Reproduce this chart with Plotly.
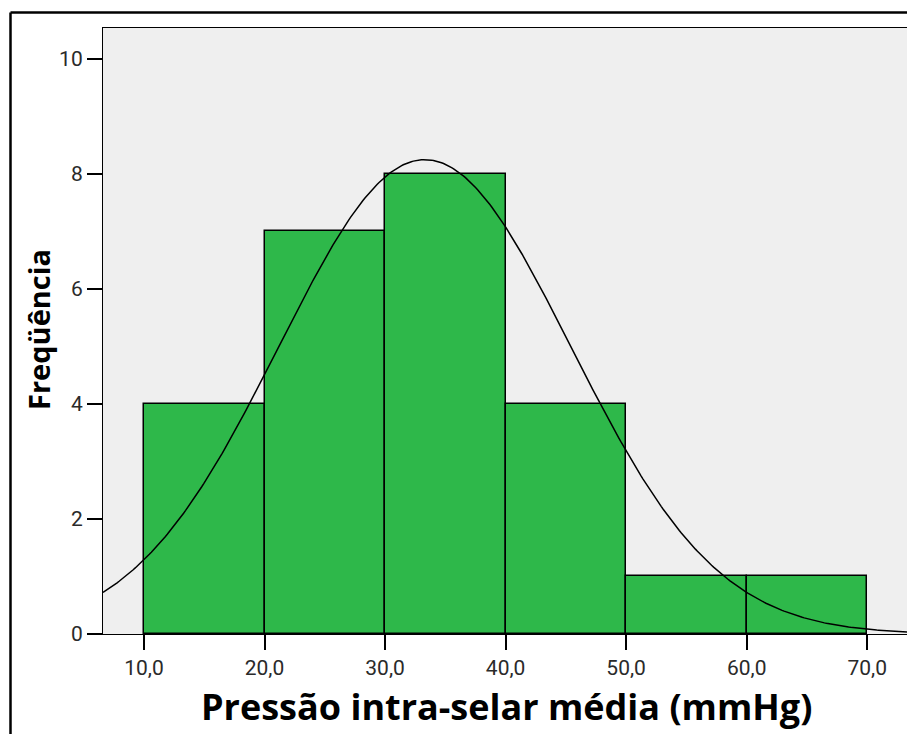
import numpy as np
import plotly.graph_objects as go

# Data
bin_starts = [10, 20, 30, 40, 50, 60]
bin_width = 10
counts = [4, 7, 8, 4, 1, 1]
x_tickvals = [10, 20, 30, 40, 50, 60, 70]
x_ticktext = ["10,0", "20,0", "30,0", "40,0", "50,0", "60,0", "70,0"]
y_tickvals = [0, 2, 4, 6, 8, 10]
# normal curve parameters (SPSS fitted normal)
curve_mean = 33.3
curve_sd = 12.1

x_range = [6.6, 73.3]
y_range = [0, 10.53]

n_total = sum(counts)
centers = [b + bin_width / 2 for b in bin_starts]

xs = np.linspace(x_range[0], x_range[1], 400)
ys = n_total * bin_width / (curve_sd * np.sqrt(2 * np.pi)) * np.exp(-0.5 * ((xs - curve_mean) / curve_sd) ** 2)

fig = go.Figure()
fig.add_trace(go.Bar(
    x=centers, y=counts, width=[bin_width] * len(counts),
    marker=dict(color="rgb(46,184,74)", line=dict(color="black", width=1.5)),
    showlegend=False, hoverinfo="skip",
))
fig.add_trace(go.Scatter(
    x=xs, y=ys, mode="lines", line=dict(color="black", width=1.5),
    showlegend=False, hoverinfo="skip",
))

W, H = 907, 734
L, R, T, B = 103, 0, 28, 100
pw, ph = W - L - R, H - T - B

def px(x):
    return (x - L) / pw

def py(y):
    return (H - B - y) / ph

tick_font = dict(family="Roboto", size=21, color="#2a2a2a")

fig.update_layout(
    width=W, height=H,
    margin=dict(l=L, r=R, t=T, b=B),
    paper_bgcolor="white",
    plot_bgcolor="rgb(239,239,239)",
    bargap=0,
    font=tick_font,
    xaxis=dict(
        range=x_range, tickvals=x_tickvals, ticktext=x_ticktext,
        showgrid=False, zeroline=False, showline=True, mirror=True,
        linecolor="black", linewidth=1.2,
        ticks="outside", ticklen=15, tickwidth=1.5, tickcolor="black",
        tickfont=tick_font,
    ),
    yaxis=dict(
        range=y_range, tickvals=y_tickvals,
        showgrid=False, zeroline=False, showline=True, mirror=True,
        linecolor="black", linewidth=1.2,
        ticks="outside", ticklen=15, tickwidth=1.5, tickcolor="black",
        tickfont=tick_font,
    ),
    annotations=[
        dict(text="<b>Pressão intra-selar média (mmHg)</b>", x=px(506), y=py(706),
             xref="paper", yref="paper", showarrow=False, xanchor="center", yanchor="middle",
             font=dict(family="Open Sans", size=36, color="black")),
        dict(text="<b>Freqüência</b>", x=px(38), y=py(330), textangle=-90,
             xref="paper", yref="paper", showarrow=False, xanchor="center", yanchor="middle",
             font=dict(family="Open Sans", size=29, color="black")),
    ],
    shapes=[
        dict(type="line", xref="paper", yref="paper", x0=px(10.5), x1=px(910), y0=py(12.5), y1=py(12.5),
             line=dict(color="black", width=2.5)),
        dict(type="line", xref="paper", yref="paper", x0=px(10.5), x1=px(10.5), y0=py(12.5), y1=py(740),
             line=dict(color="black", width=2.5)),
    ],
)

fig.write_html("out.html")
